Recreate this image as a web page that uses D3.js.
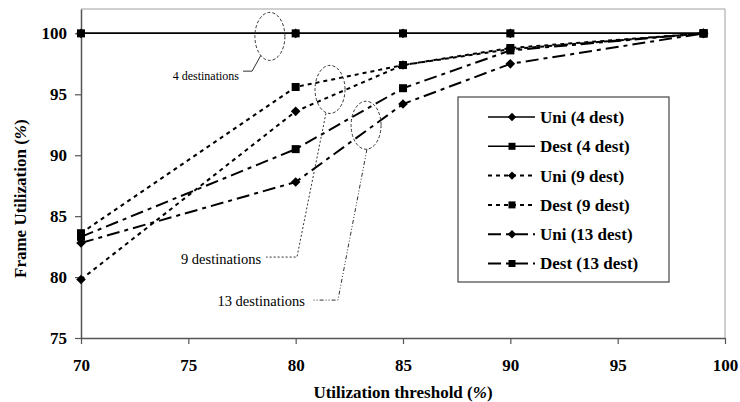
<!DOCTYPE html>
<html>
<head>
<meta charset="utf-8">
<script src="https://cdn.jsdelivr.net/npm/d3@7"></script>
<style>
  html, body { margin: 0; padding: 0; background: #fff; }
  svg { display: block; font-family: "Liberation Serif", "Times New Roman", serif; }
</style>
</head>
<body>
<div id="chart"></div>
<script>
// data
const thresholds = [70, 80, 85, 90, 99];
const uni4   = [100, 100, 100, 100, 100];
const dest4  = [100, 100, 100, 100, 100];
const uni9   = [79.8, 93.6, 97.4, 98.7, 100];
const dest9  = [83.6, 95.6, 97.4, 98.8, 100];
const uni13  = [82.8, 87.8, 94.2, 97.5, 100];
const dest13 = [83.3, 90.5, 95.5, 98.6, 100];
const seriesNames = ['Uni (4 dest)', 'Dest (4 dest)', 'Uni (9 dest)', 'Dest (9 dest)', 'Uni (13 dest)', 'Dest (13 dest)'];
const xTicks = [70, 75, 80, 85, 90, 95, 100];
const yTicks = [75, 80, 85, 90, 95, 100];
const noteLabels = ['4 destinations', '9 destinations', '13 destinations'];

const width = 740, height = 402;
const margin = { top: 9, right: 15, bottom: 64, left: 81 };

const svg = d3.select('#chart').append('svg')
  .attr('width', width)
  .attr('height', height);

const x = d3.scaleLinear().domain([70, 100]).range([margin.left, width - margin.right]);
const y = d3.scaleLinear().domain([75, 102]).range([height - margin.bottom, margin.top]);

// frame: light top/right, darker axes
svg.append('path')
  .attr('d', `M${x(70)},${y(102)}H${x(100)}V${y(75)}`)
  .attr('fill', 'none')
  .attr('stroke', '#a0a0a0')
  .attr('stroke-width', 1);

// axes
const yAxis = svg.append('g')
  .attr('transform', `translate(${x(70)},0)`)
  .call(d3.axisLeft(y).tickValues(yTicks).tickSize(6).tickPadding(8).tickSizeOuter(0));
const xAxis = svg.append('g')
  .attr('transform', `translate(0,${y(75)})`)
  .call(d3.axisBottom(x).tickValues(xTicks).tickSize(6).tickPadding(15).tickSizeOuter(0));

[xAxis, yAxis].forEach(a => {
  a.select('.domain').attr('stroke', '#555').attr('stroke-width', 1.5);
  a.selectAll('.tick line').attr('stroke', '#555').attr('stroke-width', 1.2);
  a.selectAll('.tick text')
    .attr('font-family', '"Liberation Serif", serif')
    .attr('font-size', 17)
    .attr('font-weight', 'bold')
    .attr('fill', '#000');
});

// axis titles
const xTitle = svg.append('text')
  .attr('x', (x(70) + x(100)) / 2)
  .attr('y', 398)
  .attr('text-anchor', 'middle')
  .attr('font-size', 17)
  .attr('font-weight', 'bold');
xTitle.append('tspan').text('Utilization threshold (');
xTitle.append('tspan').attr('font-style', 'italic').text('%');
xTitle.append('tspan').text(')');

const yTitle = svg.append('text')
  .attr('transform', 'translate(26,278) rotate(-90)')
  .attr('text-anchor', 'start')
  .attr('font-size', 17)
  .attr('font-weight', 'bold');
yTitle.append('tspan').text('Frame Utilization (');
yTitle.append('tspan').attr('font-style', 'italic').text('%');
yTitle.append('tspan').text(')');

// series definitions
const series = [
  { name: seriesNames[0], values: uni4,   marker: 'diamond', dash: null,         width: 1.5 },
  { name: seriesNames[1], values: dest4,  marker: 'square',  dash: null,         width: 1.5 },
  { name: seriesNames[2], values: uni9,   marker: 'diamond', dash: '4,4',        width: 2 },
  { name: seriesNames[3], values: dest9,  marker: 'square',  dash: '4,4',        width: 2 },
  { name: seriesNames[4], values: uni13,  marker: 'diamond', dash: '13,5,4,5',   width: 2 },
  { name: seriesNames[5], values: dest13, marker: 'square',  dash: '13,5,4,5',   width: 2 }
];

const line = d3.line()
  .x((d, i) => x(thresholds[i]))
  .y(d => y(d));

function drawMarker(g, type, cx, cy, s) {
  if (type === 'square') {
    g.append('rect')
      .attr('x', cx - s).attr('y', cy - s)
      .attr('width', 2 * s).attr('height', 2 * s)
      .attr('fill', '#000');
  } else {
    const r = s * 1.2;
    g.append('path')
      .attr('d', `M${cx},${cy - r}L${cx + r},${cy}L${cx},${cy + r}L${cx - r},${cy}Z`)
      .attr('fill', '#000');
  }
}

const plot = svg.append('g');
series.forEach(s => {
  plot.append('path')
    .datum(s.values)
    .attr('d', line)
    .attr('fill', 'none')
    .attr('stroke', '#000')
    .attr('stroke-width', s.width)
    .attr('stroke-dasharray', s.dash);
  const mg = plot.append('g');
  s.values.forEach((v, i) => drawMarker(mg, s.marker, x(thresholds[i]), y(v), 4));
});

// annotations: ellipses with leader lines
const notes = [
  { label: noteLabels[0], cx: 78.80, cy: 99.75, pts: [[78.38, 98.2], [77.97, 96.9], [77.55, 96.9]],
    tx: 77.36, ty: 96.15, size: 12, dash: null },
  { label: noteLabels[1], cx: 81.6, cy: 95.4, pts: [[81.41, 93.44], [80.06, 81.64], [78.62, 81.64]],
    tx: 78.39, ty: 81.07, size: 14.5, dash: '2,2' },
  { label: noteLabels[2], cx: 83.28, cy: 92.46, pts: [[83.32, 90.49], [81.97, 78.11], [80.76, 78.11]],
    tx: 80.43, ty: 77.62, size: 14.5, dash: '4,2,1,2,1,2' }
];

const ann = svg.append('g');
notes.forEach(n => {
  ann.append('ellipse')
    .attr('cx', x(n.cx)).attr('cy', y(n.cy))
    .attr('rx', 15).attr('ry', 24)
    .attr('fill', 'none')
    .attr('stroke', '#333')
    .attr('stroke-width', 1)
    .attr('stroke-dasharray', '3,2');
  ann.append('path')
    .attr('d', d3.line()(n.pts.map(p => [x(p[0]), y(p[1])])))
    .attr('fill', 'none')
    .attr('stroke', '#333')
    .attr('stroke-width', 1)
    .attr('stroke-dasharray', n.dash);
  ann.append('text')
    .attr('x', x(n.tx)).attr('y', y(n.ty))
    .attr('text-anchor', 'end')
    .attr('font-size', n.size)
    .text(n.label);
});

// legend
const legend = svg.append('g').attr('transform', 'translate(458,97)');
legend.append('rect')
  .attr('x', 0).attr('y', 0)
  .attr('width', 211).attr('height', 185)
  .attr('fill', '#fff')
  .attr('stroke', '#444')
  .attr('stroke-width', 1.2);

series.forEach((s, i) => {
  const ly = 20 + i * 29.3;
  legend.append('line')
    .attr('x1', 30).attr('x2', 77)
    .attr('y1', ly).attr('y2', ly)
    .attr('stroke', '#000')
    .attr('stroke-width', s.width)
    .attr('stroke-dasharray', s.dash);
  drawMarker(legend, s.marker, 54, ly, 3.5);
  legend.append('text')
    .attr('x', 82).attr('y', ly)
    .attr('dy', '0.35em')
    .attr('font-size', 17)
    .attr('font-weight', 'bold')
    .text(s.name);
});
</script>
</body>
</html>
